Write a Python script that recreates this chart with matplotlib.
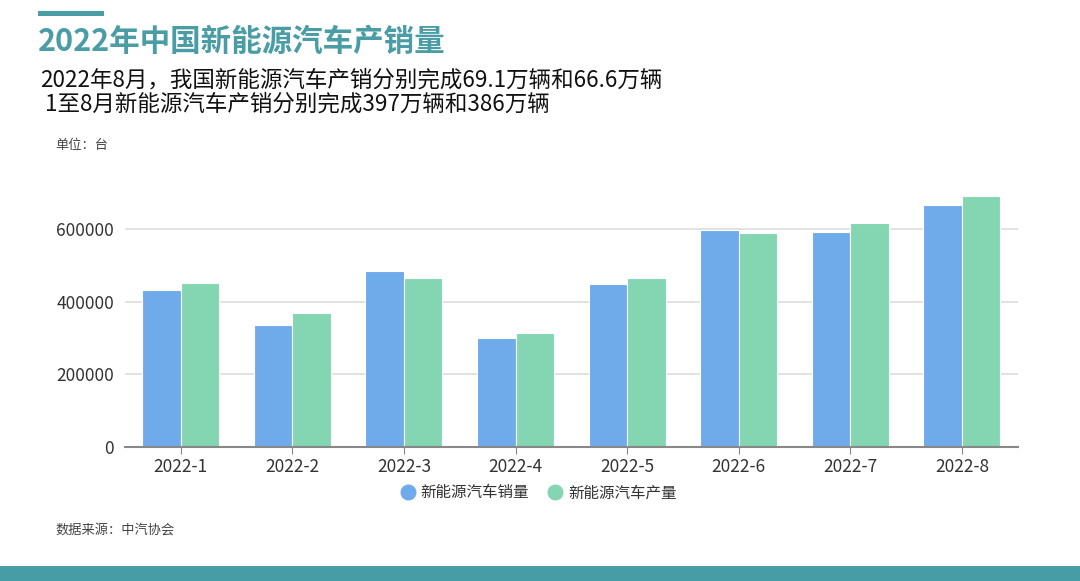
#!/usr/bin/env python3
"""
2022年中国新能源汽车产销量 - 柱状图
"""

import matplotlib
matplotlib.use('Agg')
import matplotlib.pyplot as plt
from matplotlib.patches import Rectangle
from matplotlib.lines import Line2D
import numpy as np

plt.rcParams['font.family'] = ['Noto Sans CJK SC', 'DejaVu Sans']

# 数据（单位：台）
months = ['2022-1', '2022-2', '2022-3', '2022-4', '2022-5', '2022-6', '2022-7', '2022-8']
sales = [432000, 335000, 485000, 300000, 448000, 598000, 594000, 666000]
production = [453000, 369000, 466000, 313000, 467000, 591000, 617000, 691000]
series_names = ['新能源汽车销量', '新能源汽车产量']
y_ticks = [0, 200000, 400000, 600000]

BLUE = '#6FABEB'
GREEN = '#83D6B1'
TEAL = '#4A9DA5'

fig = plt.figure(figsize=(10.8, 5.81), dpi=100)

# 装饰条
fig.add_artist(Rectangle((38 / 1080, 1 - 16 / 581), 66 / 1080, 5 / 581,
                         transform=fig.transFigure, color=TEAL, lw=0))
fig.add_artist(Rectangle((0, 0), 1, 15 / 581,
                         transform=fig.transFigure, color='#479DA5', lw=0))

# 标题
fig.text(38 / 1080, 1 - 42 / 581, '2022年中国新能源汽车产销量', fontsize=22,
         fontweight='bold', color=TEAL, va='center', ha='left')
fig.text(40 / 1080, 1 - 80 / 581, '2022年8月，我国新能源汽车产销分别完成69.1万辆和66.6万辆',
         fontsize=16.2, color='#111111', va='center', ha='left')
fig.text(40 / 1080, 1 - 104 / 581, ' 1至8月新能源汽车产销分别完成397万辆和386万辆',
         fontsize=16.2, color='#111111', va='center', ha='left')
fig.text(55 / 1080, 1 - 146 / 581, '单位：台', fontsize=9.5, color='#444444',
         va='center', ha='left')
fig.text(55 / 1080, 1 - 530 / 581, '数据来源：中汽协会', fontsize=9.5, color='#444444',
         va='center', ha='left')

# 主图
ax = fig.add_axes([125 / 1080, 0.2312, (1017.7 - 125) / 1080, 0.680 - 0.2312])
x = np.arange(len(months))
w = 0.345
ax.bar(x - w / 2, sales, w, color=BLUE, edgecolor='white', linewidth=0.8, zorder=3)
ax.bar(x + w / 2, production, w, color=GREEN, edgecolor='white', linewidth=0.8, zorder=3)

ax.set_xlim(-0.5, len(months) - 0.5)
ax.set_ylim(0, 720000)
ax.set_yticks(y_ticks)
ax.set_yticklabels([str(v) for v in y_ticks])
ax.set_xticks(x)
ax.set_xticklabels(months)
ax.grid(True, axis='y', color='#DDDDDD', linewidth=1.2, zorder=0)
for s in ['top', 'right', 'left']:
    ax.spines[s].set_visible(False)
ax.spines['bottom'].set_color('#888888')
ax.spines['bottom'].set_linewidth(1.5)
ax.spines['bottom'].set_zorder(4)
ax.tick_params(axis='y', length=0, labelsize=12.5, labelcolor='#333333', pad=8)
ax.tick_params(axis='x', length=5, color='#888888', labelsize=12.5,
               labelcolor='#333333', pad=3)

handles = [Line2D([], [], marker='o', linestyle='', markersize=10.5,
                  markerfacecolor=c, markeredgecolor=c) for c in (BLUE, GREEN)]
fig.legend(handles, series_names, loc='center', bbox_to_anchor=(536 / 1080, 1 - 493 / 581),
           ncol=2, frameon=False, fontsize=11.2, handletextpad=0.0, columnspacing=0.9,
           handlelength=1.6, labelcolor='#333333')

plt.savefig('out.png', dpi=100)
plt.close()
